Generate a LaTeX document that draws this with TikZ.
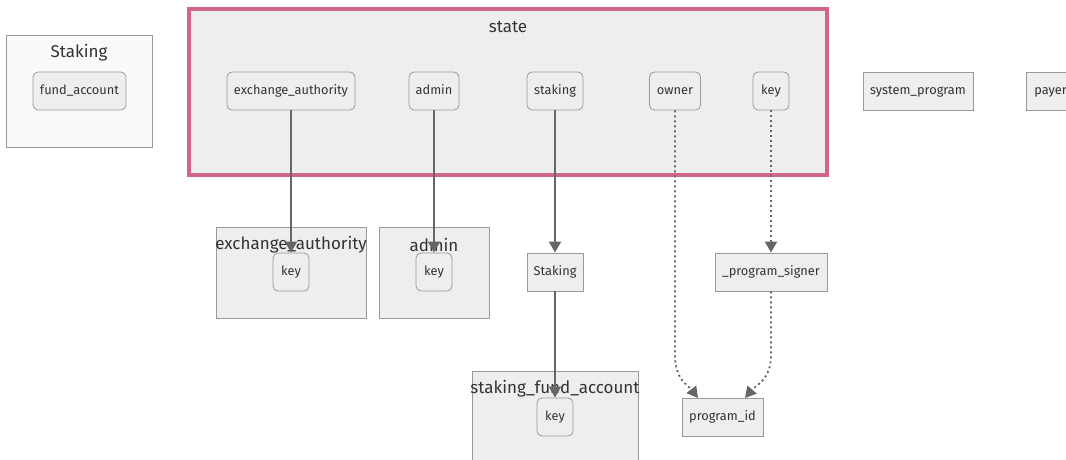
\documentclass[tikz,border=0pt]{standalone}
\usepackage{fontspec}
\setmainfont{Fira Sans}
\usetikzlibrary{arrows.meta}
\definecolor{boxfill}{HTML}{EEEEEE}
\definecolor{boxline}{HTML}{999999}
\definecolor{stateline}{HTML}{D0668A}
\definecolor{edge}{HTML}{666666}
\definecolor{ink}{HTML}{333333}
\definecolor{outerfill}{HTML}{FAFAFA}
\tikzset{
  x=1pt, y=-1pt,
  every node/.style={text=ink, font=\fontsize{12.8}{15}\selectfont, inner sep=0pt},
  boxtext/.style={text height=9pt, text depth=2pt},
  field/.style={boxtext, draw=boxline, fill=boxfill, rounded corners=5pt, line width=0.8pt, minimum height=38pt},
  plain/.style={boxtext, draw=boxline, fill=boxfill, line width=0.8pt, minimum height=38pt},
  group/.style={draw=boxline, fill=boxfill, line width=0.8pt},
  grouptitle/.style={font=\fontsize{17}{20}\selectfont},
  link/.style={draw=edge, line width=1.8pt, -{Triangle[length=11pt,width=12pt]}},
  dottedlink/.style={link, dash pattern=on 2pt off 3pt}
}
\begin{document}
\begin{tikzpicture}
\useasboundingbox (0,0) rectangle (1066,460);
\clip (0,0) rectangle (1066,460);

% Staking account cluster
\draw[group, fill=outerfill] (6,35) rectangle (152,147);
\node[grouptitle] (stakingtitle) at (79,53) {Staking};
\node[field, minimum width=93pt] (fundaccount) at (79.5,91) {fund\_account};

% state cluster
\draw[fill=boxfill, draw=stateline, line width=3.5pt] (189,9) rectangle (827,175);
\node[grouptitle] (statetitle) at (508,27) {state};
\node[field, minimum width=128pt] (exauth) at (291,91) {exchange\_authority};
\node[field, minimum width=50pt] (admin) at (434,91) {admin};
\node[field, minimum width=56pt] (staking) at (555,91) {staking};
\node[field, minimum width=51pt] (owner) at (675,91) {owner};
\node[field, minimum width=36pt] (statekey) at (771,91) {key};

% standalone accounts
\node[plain, minimum width=110pt] (sysprog) at (918,91) {system\_program};
\node[plain, minimum width=60pt, anchor=west, text width=48pt, align=left, inner xsep=8pt] (payer) at (1026,91) {payer};

% exchange_authority cluster
\draw[group] (216,227) rectangle (366,318);
\node[grouptitle] (extitle) at (291,245) {exchange\_authority};
\node[field, minimum width=36pt] (exkey) at (291,272) {key};

% admin cluster
\draw[group] (379,227) rectangle (489,318);
\node[grouptitle] (admintitle) at (434,245) {admin};
\node[field, minimum width=36pt] (adminkey) at (434,272) {key};

% Staking program node and signer
\node[plain, minimum width=56pt] (stakingprog) at (555,272) {Staking};
\node[plain, minimum width=112pt] (signer) at (771,272) {\_program\_signer};

% staking_fund_account cluster
\draw[group] (472,371) rectangle (638,470);
\node[grouptitle] (sfatitle) at (555,389) {staking\_fund\_account};
\node[field, minimum width=36pt] (sfakey) at (555,417) {key};

\node[plain, minimum width=81pt] (progid) at (722.5,417) {program\_id};

% connectors
\coordinate (pidleft) at (698,398);
\coordinate (pidright) at (745,398);
\draw[link] (exauth.south) -- (exkey.north);
\draw[link] (admin.south) -- (adminkey.north);
\draw[link] (staking.south) -- (stakingprog.north);
\draw[link] (stakingprog.south) -- (sfakey.north);
\draw[dottedlink] (statekey.south) -- (signer.north);
\draw[dottedlink] (owner.south) -- (675,355) .. controls (675,380) and (688,385) .. (pidleft);
\draw[dottedlink] (signer.south) -- (771,355) .. controls (771,380) and (756,385) .. (pidright);
\end{tikzpicture}
\end{document}
